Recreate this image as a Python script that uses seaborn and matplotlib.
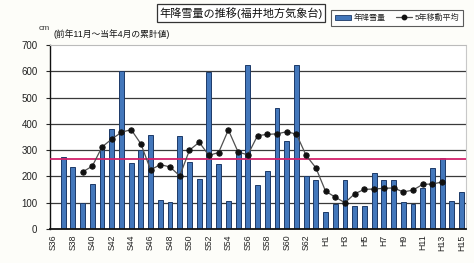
import numpy as np
import pandas as pd
import matplotlib
matplotlib.use("Agg")
import matplotlib.pyplot as plt
import seaborn as sns
from matplotlib.patches import Patch
from matplotlib.lines import Line2D

# ---- data ----
years = ["S36", "S37", "S38", "S39", "S40", "S41", "S42", "S43", "S44", "S45",
         "S46", "S47", "S48", "S49", "S50", "S51", "S52", "S53", "S54", "S55",
         "S56", "S57", "S58", "S59", "S60", "S61", "S62", "S63", "H1", "H2",
         "H3", "H4", "H5", "H6", "H7", "H8", "H9", "H10", "H11", "H12",
         "H13", "H14", "H15"]
snowfall = [None, 275, 235, 100, 172, 305, 382, 600, 250, 302,
            357, 112, 103, 352, 254, 190, 599, 248, 107, 301,
            624, 168, 222, 459, 335, 624, 200, 186, 63, 97,
            186, 88, 88, 213, 186, 186, 101, 95, 155, 231,
            269, 107, 139]
ma_years = years[3:41]
ma_values = [217, 239, 312, 342, 368, 378, 324, 225, 245, 236,
             202, 300, 330, 280, 291, 377, 293, 282, 355, 360,
             362, 370, 361, 280, 233, 144, 121, 100, 134, 151,
             152, 155, 156, 141, 148, 170, 171, 179]
normal_value = 267
tick_labels = years[::2]
y_ticks = [0, 100, 200, 300, 400, 500, 600, 700]

sns.set_theme(style="white")
plt.rcParams["font.family"] = ["Liberation Sans", "Noto Sans CJK JP", "DejaVu Sans"]

df = pd.DataFrame({"year": years,
                   "snow": pd.to_numeric(pd.Series(snowfall, dtype="float"))})

fig = plt.figure(figsize=(4.74, 2.63), dpi=100, facecolor="#fdfdf9")
ax = fig.add_axes([50 / 474, 1 - 229 / 263, 416 / 474, 184 / 263])
ax.set_facecolor("white")

sns.barplot(data=df, x="year", y="snow", order=years, ax=ax,
            color="#4377bb", width=0.5, edgecolor="#1c3a68", linewidth=0.7,
            saturation=1)

pos = {y: i for i, y in enumerate(years)}
ma_x = [pos[y] for y in ma_years]
sns.lineplot(x=ma_x, y=ma_values, ax=ax, color="#505050", linewidth=0.9,
             marker="o", markersize=3.8, markerfacecolor="#111111",
             markeredgecolor="#111111", zorder=4)

ax.axhline(normal_value, color="#d2206a", linewidth=1.3, zorder=3)

ax.set_ylim(0, 700)
ax.set_xlim(-0.35, 42.45)
ax.set_yticks(y_ticks)
ax.set_yticklabels([str(v) for v in y_ticks], fontsize=7, color="#222222")
ax.set_xticks([pos[t] for t in tick_labels])
ax.set_xticklabels(tick_labels, rotation=90, fontsize=6.3, color="#222222")
ax.tick_params(axis="y", length=3, width=0.8, direction="out", left=True, pad=6)
ax.tick_params(axis="x", length=0, pad=4)
ax.set_xlabel("")
ax.set_ylabel("")

for v in y_ticks[1:-1]:
    ax.axhline(v, color="#3a3a3a", linewidth=0.9, zorder=0.5)

ax.spines["left"].set_color("#111111")
ax.spines["left"].set_linewidth(1.0)
ax.spines["bottom"].set_color("#111111")
ax.spines["bottom"].set_linewidth(1.3)
ax.spines["top"].set_color("#bbbbbb")
ax.spines["top"].set_linestyle((0, (2, 1)))
ax.spines["top"].set_linewidth(0.8)
ax.spines["right"].set_color("#c8c8c8")
ax.spines["right"].set_linewidth(0.8)

fig.text(241 / 474, 1 - 13 / 263, "年降雪量の推移(福井地方気象台)", ha="center", va="center",
         fontsize=8, color="#111111",
         bbox=dict(boxstyle="square,pad=0.25", facecolor="white", edgecolor="#333333", linewidth=0.9))
fig.text(44 / 474, 1 - 28 / 263, "cm", ha="center", va="center", fontsize=6, color="#333333")
fig.text(54 / 474, 1 - 34 / 263, "(前年11月～当年4月の累計値)", ha="left", va="center",
         fontsize=6.3, color="#111111")

handles = [Patch(facecolor="#4377bb", edgecolor="#1c3a68", linewidth=0.6),
           Line2D([0], [0], color="#505050", linewidth=0.9, marker="o", markersize=3.2,
                  markerfacecolor="#111111", markeredgecolor="#111111")]
leg = fig.legend(handles, ["年降雪量", "5年移動平均"], ncol=2, loc="center",
                 bbox_to_anchor=(397 / 474, 1 - 18 / 263), fontsize=5.8, frameon=True,
                 fancybox=False, edgecolor="#333333", handlelength=2.0, handleheight=0.6,
                 columnspacing=1.2, handletextpad=0.4, borderpad=0.5, borderaxespad=0)
leg.get_frame().set_linewidth(0.8)

fig.savefig("out.png", dpi=100, facecolor=fig.get_facecolor())
